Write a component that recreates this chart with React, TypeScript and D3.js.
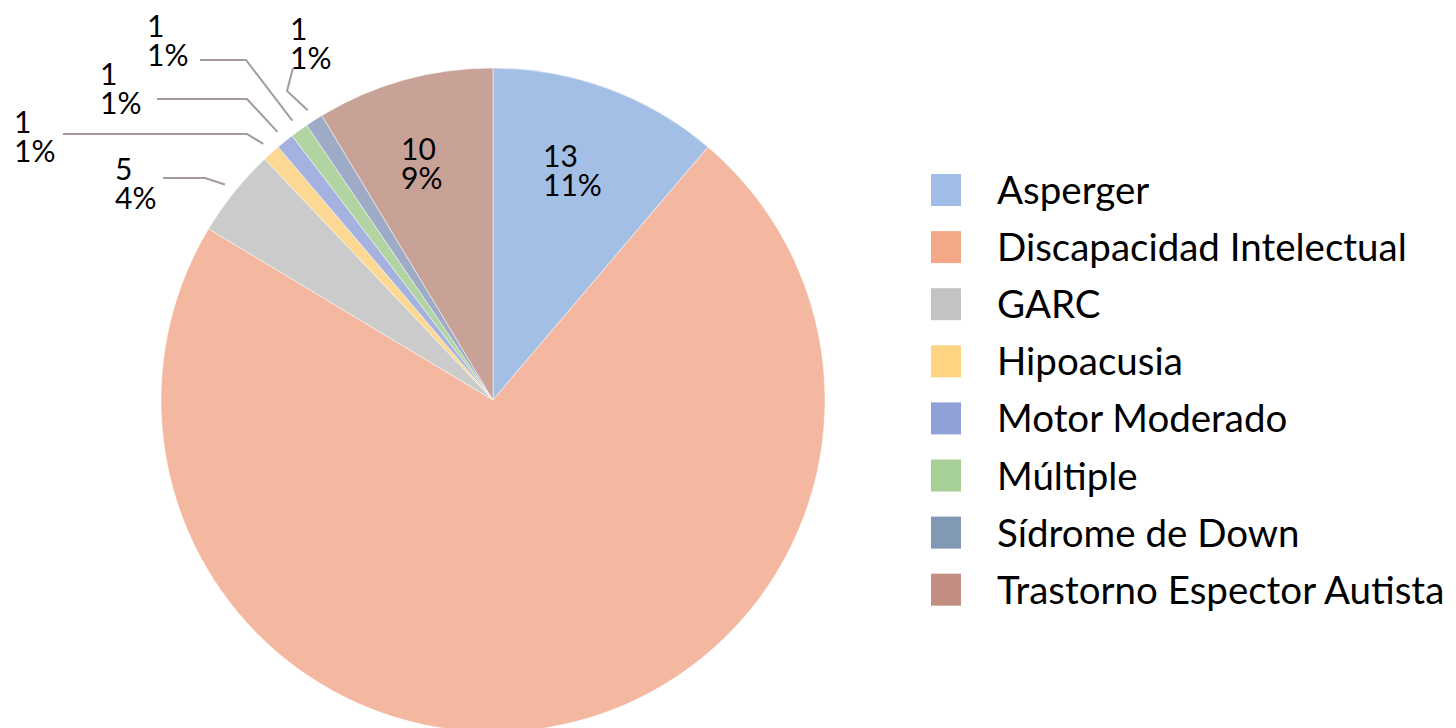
import React from "react";
import * as d3 from "d3";

const categories = [
  "Asperger",
  "Discapacidad Intelectual",
  "GARC",
  "Hipoacusia",
  "Motor Moderado",
  "Múltiple",
  "Sídrome de Down",
  "Trastorno Espector Autista",
];
const values = [13, 84, 5, 1, 1, 1, 1, 10];
const showLabel = [true, false, true, true, true, true, true, true];
const legendColors = ["#9FBDE6", "#F5A887", "#C3C3C3", "#FDD582", "#8FA1D6", "#A6D096", "#8299B6", "#C18E81"];
const sliceColors = ["#A3BFE6", "#F4B79F", "#CBCBCB", "#FDD893", "#A5B2DF", "#B2D3A2", "#9DABC6", "#C9A297"];

// label layout: [textX, firstBaseline, leaderStartX, leaderStartY, elbowX, elbowY] (inside labels have only 2)
const labelLayout: (number[] | null)[] = [
  [543, 167],
  null,
  [115, 180, 163, 178, 205, 178],
  [14, 133, 63, 134, 247, 134],
  [100, 85, 157, 99, 247, 99],
  [147, 37, 200, 60, 246, 60],
  [290, 40, 293, 68, 287, 91],
  [401, 160],
];

const W = 1456, H = 728;
const cx = 493, cy = 400, R = 332;
const FONT = "Lato, 'Open Sans', sans-serif";

export default function App() {
  const total = d3.sum(values);
  const pie = d3.pie<number>().sort(null).value((d) => d).startAngle(0).endAngle(2 * Math.PI);
  const arcs = pie(values);
  const arcGen = d3.arc<d3.PieArcDatum<number>>().innerRadius(0).outerRadius(R);
  const fmtPct = (v: number) => `${Math.round((v / total) * 100)}%`;

  return (
    <svg width={W} height={H} style={{ position: "absolute", left: 0, top: 0, background: "#fff" }} fontFamily={FONT}>
      <g transform={`translate(${cx},${cy})`}>
        {arcs.map((a, i) => (
          <path key={i} d={arcGen(a) || ""} fill={sliceColors[i]} stroke="#fff" strokeWidth={0.5} />
        ))}
      </g>
      {arcs.map((a, i) => {
        if (!showLabel[i]) return null;
        const lay = labelLayout[i];
        if (!lay) return null;
        const [tx, ty] = lay;
        const els: React.ReactNode[] = [];
        if (lay.length > 2) {
          const mid = (a.startAngle + a.endAngle) / 2;
          const rr = R + 12;
          const ex = cx + rr * Math.sin(mid);
          const ey = cy - rr * Math.cos(mid);
          els.push(
            <polyline
              key="l"
              points={`${lay[2]},${lay[3]} ${lay[4]},${lay[5]} ${ex},${ey}`}
              fill="none"
              stroke="#A59B9B"
              strokeWidth={2}
            />
          );
        }
        els.push(
          <text key="t" x={tx} y={ty} fontSize={30} fill="#000">
            <tspan x={tx}>{values[i]}</tspan>
            <tspan x={tx} dy={29}>{fmtPct(values[i])}</tspan>
          </text>
        );
        return <g key={i}>{els}</g>;
      })}
      <g>
        {categories.map((c, i) => {
          const y = 174 + i * 57.1;
          return (
            <g key={c}>
              <rect x={931} y={y} width={30} height={32} fill={legendColors[i]} />
              <text x={997} y={y + 30} fontSize={38.5} fill="#000">{c}</text>
            </g>
          );
        })}
      </g>
    </svg>
  );
}
